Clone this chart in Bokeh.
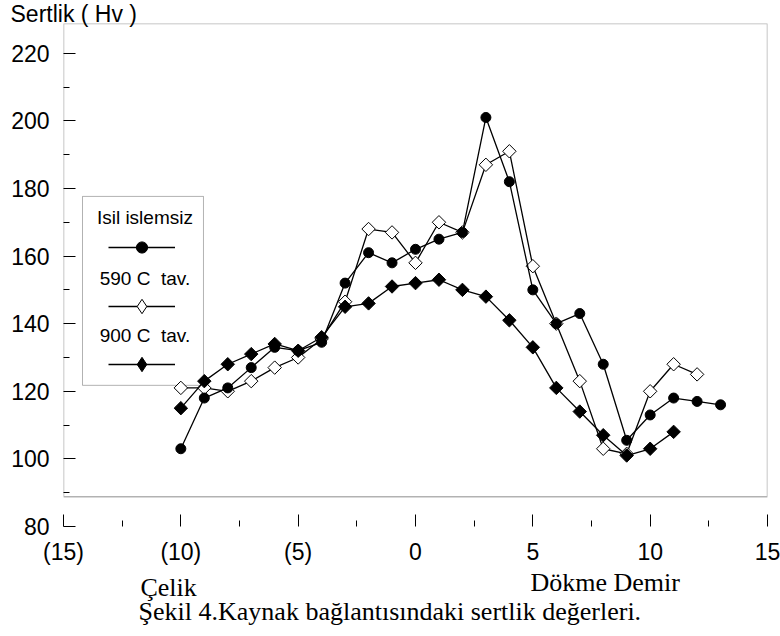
import math
from bokeh.plotting import figure
from bokeh.layouts import column
from bokeh.models import (Range1d, FixedTicker, BoxAnnotation, Label, Legend,
                          LegendItem, ColumnDataSource, Title)
from bokeh.embed import file_html
from bokeh.resources import INLINE

# ---- data ----
x_isil = [-10, -9, -8, -7, -6, -5, -4, -3, -2, -1, 0, 1, 2, 3, 4, 5, 6, 7, 8, 9, 10, 11, 12, 13]
isil = [103, 118, 121, 127, 133, 132, 134.5, 152, 161, 158, 162, 165, 167, 201, 182, 150,
        140, 143, 128, 105.5, 113, 118, 117, 116]

x_590 = [-10, -9, -8, -7, -6, -5, -4, -3, -2, -1, 0, 1, 2, 3, 4, 5, 6, 7, 8, 9, 10, 11, 12]
tav590 = [121, 121, 120, 123, 127, 130, 135.5, 146.5, 168, 167, 158, 170, 167, 187, 191, 157,
          140, 123, 103, 101.5, 120, 128, 125]

x_900 = [-10, -9, -8, -7, -6, -5, -4, -3, -2, -1, 0, 1, 2, 3, 4, 5, 6, 7, 8, 9, 10, 11]
tav900 = [115, 123, 128, 131, 134, 132, 136, 145, 146, 151, 152, 153, 150, 148, 141, 133,
          121, 114, 107, 101, 103, 108]

series_names = ["Isil islemsiz", "590 C \u00a0tav.", "900 C \u00a0tav."]

y_ticks = [80, 100, 120, 140, 160, 180, 200, 220]
y_minor = [90, 110, 130, 150, 170, 190, 210]
x_ticks = [-15, -10, -5, 0, 5, 10, 15]
x_minor = [-12.5, -7.5, -2.5, 2.5, 7.5, 12.5]
x_tick_labels = ["(15)", "(10)", "(5)", "0", "5", "10", "15"]

SANS = "Liberation Sans"
SERIF = "Liberation Serif"

p = figure(width=780, height=567, output_backend="svg", toolbar_location=None,
           x_range=Range1d(-15, 15), y_range=Range1d(80, 228.8),
           min_border_left=63, min_border_right=13, min_border_top=23,
           min_border_bottom=38)
p.outline_line_color = None
p.grid.visible = False
p.background_fill_color = "white"
p.border_fill_color = "white"

# y-axis title, written at the top-left corner
p.title = Title(text="Sertlik ( Hv )", align="left", offset=-53, standoff=-6,
                vertical_align="bottom", text_font=SANS, text_font_size="23px",
                text_font_style="normal", text_color="black")

# y axis
yax = p.yaxis[0]
yax.ticker = FixedTicker(ticks=y_ticks, minor_ticks=y_minor)
yax.axis_line_color = None
yax.major_tick_in = 12
yax.major_tick_out = 0
yax.minor_tick_in = 6
yax.minor_tick_out = 0
yax.major_tick_line_color = "black"
yax.minor_tick_line_color = "black"
yax.major_label_text_font = SANS
yax.major_label_text_font_size = "23px"
yax.major_label_text_color = "black"
yax.major_label_standoff = 14

# x axis
xax = p.xaxis[0]
xax.ticker = FixedTicker(ticks=x_ticks, minor_ticks=x_minor)
xax.axis_line_color = None
xax.major_tick_in = 12
xax.major_tick_out = 0
xax.minor_tick_in = 6
xax.minor_tick_out = 0
xax.major_tick_line_color = "black"
xax.minor_tick_line_color = "black"
xax.major_label_overrides = {t: lab for t, lab in zip(x_ticks, x_tick_labels)}
xax.major_label_text_font = SANS
xax.major_label_text_font_size = "23px"
xax.major_label_text_color = "black"
xax.major_label_standoff = 12

# frame box (ends above the x axis, as in the reference)
p.add_layout(BoxAnnotation(bottom=88.8, fill_color=None, line_color="black",
                           line_width=1.5, level="underlay"))

# legend box
p.add_layout(BoxAnnotation(left=-14.19, right=-9.035, top=177.65, bottom=121.76,
                           fill_color="white", line_color="black", line_width=1,
                           level="underlay"))

# series
s1 = ColumnDataSource(dict(x=x_isil, y=isil))
s2 = ColumnDataSource(dict(x=x_590, y=tav590))
s3 = ColumnDataSource(dict(x=x_900, y=tav900))

l2 = p.line("x", "y", source=s2, line_color="black", line_width=1.3)
p.scatter("x", "y", source=s2, marker="square", angle=math.pi / 4, size=9.5,
          fill_color="white", line_color="black", line_width=1)
l1 = p.line("x", "y", source=s1, line_color="black", line_width=1.3)
p.scatter("x", "y", source=s1, marker="circle", size=10,
          fill_color="black", line_color="black", line_width=1)
l3 = p.line("x", "y", source=s3, line_color="black", line_width=1.3)
p.scatter("x", "y", source=s3, marker="square", angle=math.pi / 4, size=9.5,
          fill_color="black", line_color="black", line_width=1)

# legend sample markers (renderers with no visible point, used only by the legend)
nan = float("nan")
def legend_marker(marker, fill):
    return p.scatter(x="x", y="y", source=ColumnDataSource(dict(x=[nan], y=[nan])),
                     marker=marker, fill_color=fill, line_color="black")

d1 = legend_marker("circle", "black")
d2 = legend_marker("diamond", "white")
d3 = legend_marker("diamond", "black")

common = dict(orientation="vertical", glyph_width=67, padding=0, margin=0,
              label_standoff=0, label_width=1, label_text_font_size="1px",
              border_line_color=None, background_fill_alpha=0)
GA = 28
legend_a = Legend(items=[LegendItem(label=" ", renderers=[l1, d1])],
                  location=(45, 265.5), glyph_height=GA, label_height=GA,
                  spacing=0, **common)
GB = 36
legend_b = Legend(items=[LegendItem(label=" ", renderers=[l2, d2]),
                         LegendItem(label=" ", renderers=[l3, d3])],
                  location=(45, 144.5), glyph_height=GB, label_height=GB,
                  spacing=58 - GB, **common)
p.add_layout(legend_a)
p.add_layout(legend_b)

legend_text_y = [171.4, 153.4, 136.6]
for name, ty in zip(series_names, legend_text_y):
    p.add_layout(Label(x=-11.53, y=ty, text=name, text_align="center",
                       text_baseline="alphabetic", text_font=SANS,
                       text_font_size="19px", text_color="black"))

# ---- strip under the chart with the side names and the caption ----
p2 = figure(width=780, height=69, output_backend="svg", toolbar_location=None,
            x_range=p.x_range, y_range=Range1d(0, 69),
            x_axis_type=None, y_axis_type=None,
            min_border_left=63, min_border_right=13, min_border_top=0,
            min_border_bottom=0)
p2.outline_line_color = None
for g in p2.grid:
    g.visible = False

p2.add_layout(Label(x=-11.72, y=49, text="Çelik", text_baseline="alphabetic",
                    text_font=SERIF, text_font_size="26px", text_color="black"))
p2.add_layout(Label(x=4.90, y=54.5, text="Dökme Demir", text_baseline="alphabetic",
                    text_font=SERIF, text_font_size="26px", text_color="black"))
p2.add_layout(Label(x=-11.80, y=25.5,
                    text="Şekil 4.Kaynak bağlantısındaki sertlik değerleri.",
                    text_baseline="alphabetic",
                    text_font=SERIF, text_font_size="26px", text_color="black"))

layout = column(p, p2, spacing=0)
open("out.html", "w").write(file_html(layout, INLINE))
